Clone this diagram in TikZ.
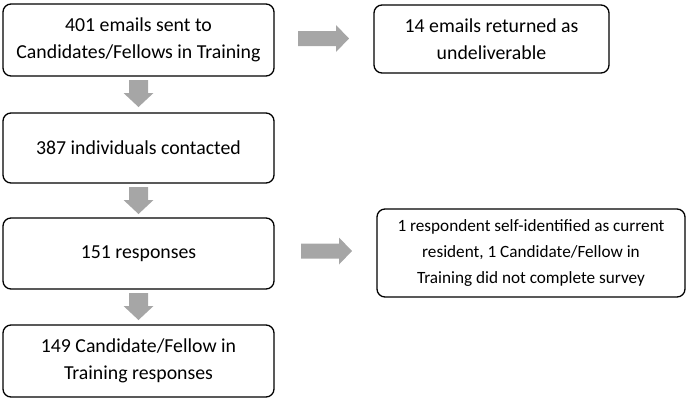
\documentclass[tikz,border=0pt]{standalone}
\usepackage{fontspec}
\setmainfont{Carlito}
\begin{document}
\begin{tikzpicture}[x=1pt,y=-1pt,
  box/.style={draw=black, line width=1.3pt, rounded corners=8pt, inner sep=0pt, align=center,
    font=\fontsize{19.8}{27}\selectfont, text=black},
  smallbox/.style={box, font=\fontsize{17.2}{26}\selectfont},
  blockarrow/.style={fill=black!35, draw=none}]
\useasboundingbox (0,0) rectangle (691,400);
\newcommand{\myrarrow}[2]{%
  \fill[blockarrow] (#1,#2-7.5) -- (#1+38,#2-7.5) -- (#1+38,#2-13.5) -- (#1+51,#2)
    -- (#1+38,#2+13.5) -- (#1+38,#2+7.5) -- (#1,#2+7.5) -- cycle;}
\newcommand{\mydarrow}[2]{%
  \fill[blockarrow] (#1-9.5,#2) -- (#1+9.5,#2) -- (#1+9.5,#2+13) -- (#1+15,#2+13)
    -- (#1,#2+27) -- (#1-15,#2+13) -- (#1-9.5,#2+13) -- cycle;}
\node[box, minimum width=271pt, minimum height=72pt] (b1) at (138.5,40) {401 emails sent to\\Candidates/Fellows in Training};
\node[box, minimum width=235pt, minimum height=68pt] (b2) at (491.5,39) {14 emails returned as\\undeliverable};
\node[box, minimum width=271pt, minimum height=70pt] (b3) at (138.5,148) {387 individuals contacted};
\node[box, minimum width=271pt, minimum height=71pt] (b4) at (138.5,253.5) {151 responses};
\node[smallbox, minimum width=308pt, minimum height=88pt] (b5) at (531,253) {1 respondent self-identified as current\\resident, 1 Candidate/Fellow in\\Training did not complete survey};
\node[box, minimum width=271pt, minimum height=72pt] (b6) at (138.5,361) {149 Candidate/Fellow in\\Training responses};
\myrarrow{298}{38.5}
\myrarrow{301}{251}
\mydarrow{138.5}{80}
\mydarrow{138.5}{187}
\mydarrow{138.5}{293}
\end{tikzpicture}
\end{document}
